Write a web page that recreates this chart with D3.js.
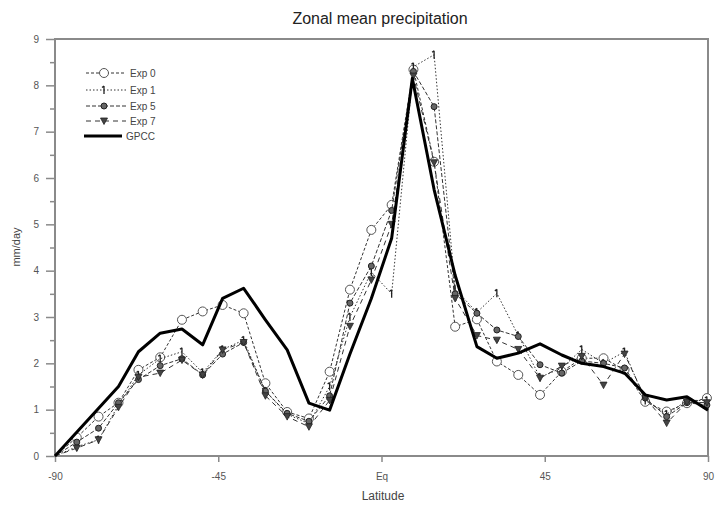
<!DOCTYPE html>
<html><head><meta charset="utf-8">
<script src="https://cdn.jsdelivr.net/npm/d3@7"></script>
<style>body{margin:0;background:#fff}svg{display:block}text{font-family:"Liberation Sans",Arial,sans-serif}</style>
</head><body>
<svg id="c" width="717" height="507"></svg>
<script>
const lats = [-90,-84,-78,-72.5,-67,-61,-55,-49.3,-43.8,-38,-32,-26,-20,-14.3,-8.7,-2.8,2.8,8.8,14.5,20.3,26.3,31.8,37.7,43.7,49.7,55.2,61.2,67,72.7,78.6,84.2,89.7];
const exp0 = [0,0.4,0.85,1.15,1.86,2.13,2.94,3.12,3.26,3.08,1.57,0.95,0.81,1.82,3.59,4.88,5.42,8.34,6.35,2.79,2.95,2.04,1.75,1.32,1.82,2.11,2.11,1.86,1.17,0.96,1.14,1.25];
const exp1 = [0,0.2,0.35,1.1,1.75,2.1,2.25,1.8,2.3,2.5,1.4,0.9,0.7,1.5,3.0,3.97,3.5,8.4,8.66,3.6,3.1,3.51,2.6,1.7,1.9,2.3,2.0,2.25,1.2,0.9,1.2,1.2];
const exp5 = [0,0.3,0.6,1.15,1.65,1.95,2.1,1.75,2.2,2.45,1.4,0.92,0.75,1.3,3.3,4.1,5.3,8.3,7.54,3.5,3.08,2.72,2.58,1.97,1.79,2.05,2.0,1.9,1.25,0.85,1.15,1.1];
const exp7 = [0,0.17,0.35,1.05,1.7,1.79,2.07,1.75,2.29,2.45,1.3,0.85,0.63,1.2,2.8,3.8,5.0,8.2,6.33,3.4,2.6,2.5,2.3,1.68,1.94,2.15,1.53,2.2,1.25,0.71,1.16,1.15];
const gpccLats = [-90,-72.5,-67,-61,-55,-49.3,-43.8,-38,-32,-26,-20,-14.3,-8.7,-2.8,2.8,8.5,14.5,20.3,26.3,31.8,37.7,43.7,49.7,55.2,61.2,67,72.7,78.6,84.2,90];
const gpcc = [0,1.5,2.25,2.65,2.74,2.4,3.4,3.62,2.94,2.29,1.14,0.99,2.2,3.4,4.7,8.15,5.75,3.9,2.36,2.11,2.22,2.42,2.18,2.0,1.93,1.79,1.32,1.21,1.28,0.99];
const seriesNames = ["Exp 0","Exp 1","Exp 5","Exp 7","GPCC"];
const xTickVals = [-90,-45,0,45,90];
const xTickLabels = ["-90","-45","Eq","45","90"];
const yTickVals = [0,1,2,3,4,5,6,7,8,9];

const svg = d3.select("#c");
const X0=55, X1=708, Y0=39, Y1=456;
const x = d3.scaleLinear().domain([-90,90]).range([X0,X1]);
const y = d3.scaleLinear().domain([0,9]).range([Y1,Y0]);
const axisCol = "#8a8a8a";

svg.append("text").attr("x",380).attr("y",24).attr("text-anchor","middle")
  .attr("font-size",16).attr("fill","#222").text("Zonal mean precipitation");

// frame
svg.append("rect").attr("x",X0).attr("y",Y0).attr("width",X1-X0).attr("height",Y1-Y0)
  .attr("fill","none").attr("stroke",axisCol).attr("stroke-width",2);

// y axis
const ya = svg.append("g").attr("transform",`translate(${X0},0)`)
  .call(d3.axisLeft(y).tickValues(yTickVals).tickSize(9).tickFormat(d3.format("d")));
ya.select(".domain").remove();
ya.selectAll("line").attr("stroke",axisCol).attr("stroke-width",1.5);
ya.selectAll("text").attr("font-size",10).attr("fill","#555").attr("x",-16);
const yMinor = svg.append("g").attr("transform",`translate(${X0},0)`)
  .call(d3.axisLeft(y).tickValues(d3.range(0.5,9,1)).tickSize(5).tickFormat(""));
yMinor.select(".domain").remove();
yMinor.selectAll("line").attr("stroke",axisCol).attr("stroke-width",1.5);

// x axis
const xa = svg.append("g").attr("transform",`translate(0,${Y1})`)
  .call(d3.axisBottom(x).tickValues(xTickVals).tickSize(6).tickFormat((d,i)=>xTickLabels[i]));
xa.select(".domain").remove();
xa.selectAll("line").attr("stroke",axisCol).attr("stroke-width",1.5);
xa.selectAll("text").attr("font-size",10).attr("fill","#555").attr("y",17);

svg.append("text").attr("x",383).attr("y",500).attr("text-anchor","middle")
  .attr("font-size",12).attr("fill","#444").text("Latitude");
svg.append("text").attr("transform","translate(20,247) rotate(-90)").attr("text-anchor","middle")
  .attr("font-size",11).attr("fill","#444").text("mm/day");

const dashes = ["3,2","1.5,2","4,2","5,4"];
const expData = [exp0,exp1,exp5,exp7];
const line = d3.line().x(d=>x(d[0])).y(d=>y(d[1]));
const col = "#333";

function marker(g, k, cx, cy){
  if(k===0){ g.append("circle").attr("cx",cx).attr("cy",cy).attr("r",4.5).attr("fill","#fff").attr("stroke","#555").attr("stroke-width",1); }
  else if(k===1){ g.append("path").attr("d",`M${cx},${cy-4}L${cx},${cy+4}M${cx-2},${cy-2.5}L${cx},${cy-4}`).attr("stroke","#222").attr("stroke-width",1.3).attr("fill","none"); }
  else if(k===2){ g.append("circle").attr("cx",cx).attr("cy",cy).attr("r",3).attr("fill","#666").attr("stroke","#222").attr("stroke-width",1); }
  else { g.append("path").attr("d",`M${cx-3.5},${cy-3}L${cx+3.5},${cy-3}L${cx},${cy+3.5}Z`).attr("fill","#444").attr("stroke","#222").attr("stroke-width",0.8); }
}

const plot = svg.append("g");
expData.forEach((arr,k)=>{
  const pts = lats.map((l,i)=>[l,arr[i]]);
  plot.append("path").datum(pts).attr("d",line).attr("fill","none")
    .attr("stroke",col).attr("stroke-width",1).attr("stroke-dasharray",dashes[k]);
  const mg = plot.append("g");
  pts.slice(1).forEach(p=>marker(mg,k,x(p[0]),y(p[1])));
});
plot.append("path").datum(gpccLats.map((l,i)=>[l,gpcc[i]])).attr("d",line)
  .attr("fill","none").attr("stroke","#000").attr("stroke-width",3).attr("stroke-linejoin","round");

// legend
const lg = svg.append("g");
const ly = [73,90,106,121,136];
seriesNames.forEach((n,k)=>{
  const yy = ly[k];
  if(k<4){
    lg.append("line").attr("x1",86).attr("x2",126).attr("y1",yy).attr("y2",yy)
      .attr("stroke",col).attr("stroke-width",1).attr("stroke-dasharray",dashes[k]);
    marker(lg,k,104,yy);
  } else {
    lg.append("line").attr("x1",84).attr("x2",122).attr("y1",yy).attr("y2",yy)
      .attr("stroke","#000").attr("stroke-width",3);
  }
  lg.append("text").attr("x",k<4?130:126).attr("y",yy+4).attr("font-size",10).attr("fill","#444").text(n);
});
</script>
</body></html>
